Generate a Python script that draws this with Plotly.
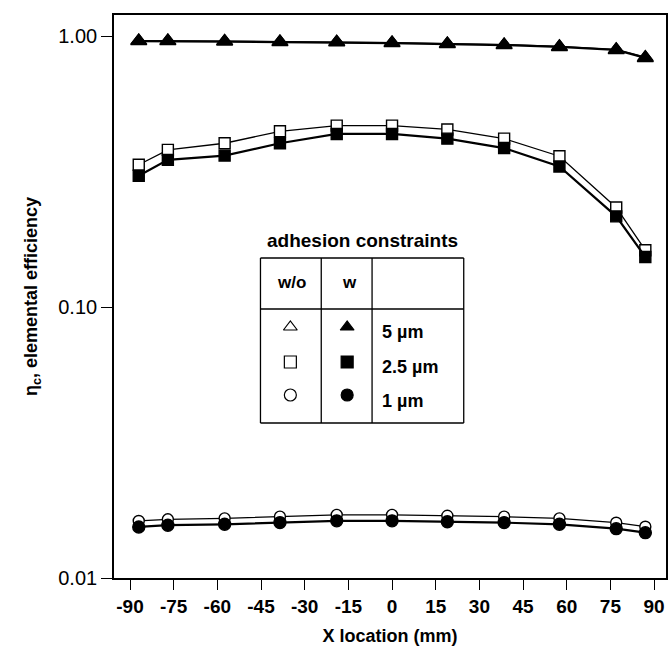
import plotly.graph_objects as go

# Measurement positions across the wafer (mm)
x_mm = [-87, -77, -57.5, -38.5, -19, 0, 19, 38.5, 57.5, 77, 87]

# Elemental efficiency, with (w) and without (w/o) adhesion constraints
eff_5um_wo = [0.962, 0.962, 0.958, 0.954, 0.952, 0.946, 0.938, 0.930, 0.916, 0.893, 0.835]
eff_5um_w = [0.958, 0.958, 0.954, 0.950, 0.948, 0.942, 0.934, 0.926, 0.911, 0.888, 0.830]
eff_25um_wo = [0.335, 0.380, 0.402, 0.445, 0.467, 0.467, 0.452, 0.418, 0.360, 0.233, 0.162]
eff_25um_w = [0.305, 0.349, 0.362, 0.402, 0.435, 0.435, 0.418, 0.386, 0.330, 0.216, 0.153]
eff_1um_wo = [0.01624, 0.01647, 0.01660, 0.01684, 0.01710, 0.01710, 0.01697, 0.01684, 0.01660, 0.01600, 0.01546]
eff_1um_w = [0.01543, 0.01566, 0.01578, 0.01601, 0.01625, 0.01625, 0.01613, 0.01601, 0.01578, 0.01521, 0.01470]

x_ticks = [-90, -75, -60, -45, -30, -15, 0, 15, 30, 45, 60, 75, 90]
x_tick_text = ["-90", "-75", "-60", "-45", "-30", "-15", "0", "15", "30", "45", "60", "75", "90"]
y_ticks = [0.01, 0.1, 1.0]
y_tick_text = ["0.01", "0.10", "1.00"]

# Legend table contents
legend_title = "adhesion constraints"
legend_headers = ["w/o", "w"]
legend_sizes = ["5 \u00b5m", "2.5 \u00b5m", "1 \u00b5m"]
legend_symbols = ["triangle-up", "square", "circle"]

W, H = 670, 661
L, R, T, B = 114, 2, 15, 83
PW, PH = W - L - R, H - T - B


def px(xp):
    return (xp - L) / PW


def py(yp):
    return (H - B - yp) / PH


FONT = "Liberation Sans, Arial, sans-serif"

fig = go.Figure()

series = [
    (eff_5um_wo, "triangle-up", True, 13),
    (eff_25um_wo, "square", True, 11),
    (eff_1um_wo, "circle", True, 11),
    (eff_5um_w, "triangle-up", False, 14),
    (eff_25um_w, "square", False, 11),
    (eff_1um_w, "circle", False, 12),
]
for vals, sym, hollow, size in series:
    fig.add_trace(go.Scatter(
        x=x_mm, y=vals, mode="lines+markers",
        line=dict(color="black", width=1.3 if hollow else 2.2),
        marker=dict(symbol=sym, size=size,
                    color="white" if hollow else "black",
                    line=dict(color="black", width=1.4)),
        showlegend=False, hoverinfo="skip",
    ))

# Legend table drawn on an overlay axis in paper units
legend_rows_y = [327, 362, 395]
for sym, yp in zip(legend_symbols, legend_rows_y):
    fig.add_trace(go.Scatter(
        x=[px(291), px(348)], y=[py(yp), py(yp)], mode="markers",
        marker=dict(symbol=sym, size=12, color=["white", "black"],
                    line=dict(color="black", width=1.2)),
        xaxis="x2", yaxis="y2", showlegend=False, hoverinfo="skip",
    ))

table_lines = [
    (261, 258, 465, 258), (261, 309, 465, 309), (261, 423, 465, 423),
    (261, 258, 261, 423), (322, 258, 322, 423), (373, 258, 373, 423),
    (465, 258, 465, 423),
]
shapes = [
    dict(type="line", xref="paper", yref="paper",
         x0=px(a), y0=py(b), x1=px(c), y1=py(d),
         line=dict(color="black", width=1.3))
    for a, b, c, d in table_lines
]


def label(text, xp, yp, size, anchor="center"):
    return dict(text=text, x=px(xp), y=py(yp), xref="paper", yref="paper",
                xanchor=anchor, yanchor="middle", showarrow=False,
                font=dict(family=FONT, size=size, weight="bold", color="black"))


annotations = [
    label(legend_title, 363, 241, 19),
    label(legend_headers[0], 292, 282, 17),
    label(legend_headers[1], 350, 282, 17),
]
for lab, yp in zip(legend_sizes, [332, 367, 401]):
    annotations.append(label(lab, 381, yp, 18, anchor="left"))

fig.update_layout(
    width=W, height=H,
    margin=dict(l=L, r=R, t=T, b=B),
    paper_bgcolor="white", plot_bgcolor="white",
    font=dict(family=FONT, color="black"),
    shapes=shapes, annotations=annotations,
    xaxis=dict(
        range=[-95.5, 94.1], tickvals=x_ticks, ticktext=x_tick_text,
        ticks="outside", ticklen=10, tickwidth=1.3, tickcolor="black",
        showline=True, linecolor="black", linewidth=1.6, mirror=True,
        showgrid=False, zeroline=False,
        tickfont=dict(family=FONT, size=19, weight="bold"),
        title=dict(text="X location (mm)", standoff=14,
                   font=dict(family=FONT, size=18, weight="bold")),
    ),
    yaxis=dict(
        type="log", range=[-2, 0.0775], tickvals=y_ticks, ticktext=y_tick_text,
        ticks="outside", ticklen=11, tickwidth=1.3, tickcolor="black",
        showline=True, linecolor="black", linewidth=1.6, mirror=True,
        showgrid=False, zeroline=False,
        tickfont=dict(family=FONT, size=20),
        title=dict(text="\u03b7<sub>c</sub>, elemental efficiency", standoff=16,
                   font=dict(family=FONT, size=18, weight="bold")),
    ),
    xaxis2=dict(overlaying="x", range=[0, 1], visible=False, fixedrange=True),
    yaxis2=dict(overlaying="y", range=[0, 1], visible=False, fixedrange=True),
)

fig.write_html("out.html")
